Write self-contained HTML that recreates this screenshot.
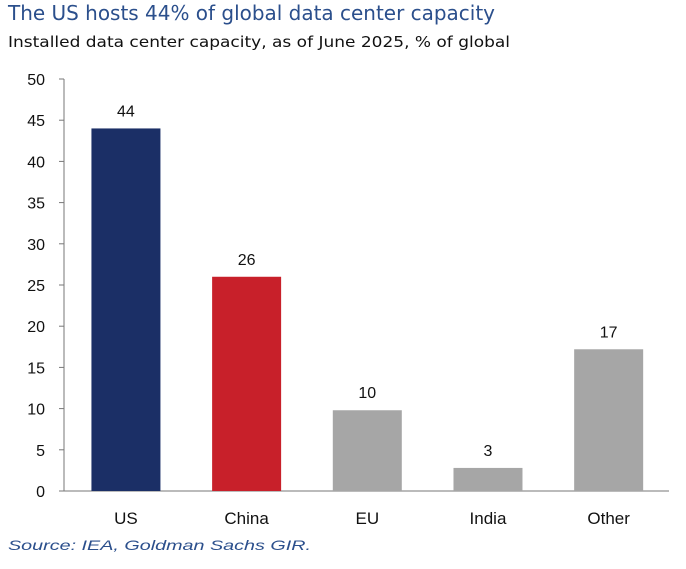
<!DOCTYPE html>
<html><head><meta charset="utf-8"><style>
body{margin:0;background:#fff;width:686px;height:564px;overflow:hidden;font-family:"Liberation Sans",sans-serif;}
</style></head><body>
<svg width="686" height="564">
<text x="8" y="20" font-size="20" fill="#2b4f8c" font-family="DejaVu Sans, sans-serif" textLength="487" lengthAdjust="spacingAndGlyphs">The US hosts 44% of global data center capacity</text>
<text x="8" y="47" font-size="15.5" fill="#111" font-family="DejaVu Sans, sans-serif" textLength="502" lengthAdjust="spacingAndGlyphs">Installed data center capacity, as of June 2025, % of global</text>
<g id="axes"></g>
<g id="bars"></g>
<text x="8" y="550" font-size="14" font-style="italic" fill="#2b4f8c" textLength="303" lengthAdjust="spacingAndGlyphs">Source: IEA, Goldman Sachs GIR.</text>
</svg>
<script>
const categories=["US","China","EU","India","Other"];
const values=[44,26,9.8,2.8,17.2];
const valueLabels=["44","26","10","3","17"];
const colors=["#1b2f66","#c8202a","#a6a6a6","#a6a6a6","#a6a6a6"];
const yTicks=[0,5,10,15,20,25,30,35,40,45,50];
const NS="http://www.w3.org/2000/svg";
const x0=65.6,x1=669,y0=491,yTop=79,yMax=50;
const y=v=>y0-(v/yMax)*(y0-yTop);
const band=(x1-x0)/categories.length;
const xc=i=>x0+band*(i+0.5);
function mk(t,a,p){const e=document.createElementNS(NS,t);for(const k in a)e.setAttribute(k,a[k]);p.appendChild(e);return e;}
const ax=document.getElementById('axes'),bg=document.getElementById('bars');
const yl=mk('line',{x1:64,y1:y(50),x2:64,y2:y0,stroke:'#777','stroke-width':1},ax);


const xl=mk('line',{x1:64,y1:y0,x2:x1,y2:y0,stroke:'#777','stroke-width':1},ax);


yTicks.forEach(v=>{
 const tk=mk('line',{x1:59,y1:y(v),x2:64,y2:y(v),stroke:'#777'},ax);
 
 
 const t=mk('text',{x:45,y:y(v)+6,'font-size':16,'text-anchor':'end',fill:'#111'},ax);
 t.textContent=v;
 
 
});
categories.forEach((c,i)=>{
 const w=69;
 const r=mk('rect',{x:xc(i)-w/2,y:y(values[i]),width:w,height:y0-y(values[i]),fill:colors[i]},bg);
 
 
 const l=mk('text',{x:xc(i),y:y(values[i])-12,'font-size':16,'text-anchor':'middle',fill:'#111'},bg);
 l.textContent=valueLabels[i];
 
 
 const cl=mk('text',{x:xc(i),y:524,'font-size':17,'text-anchor':'middle',fill:'#111'},bg);
 cl.textContent=c;
 
 
});
</script>
</body></html>
